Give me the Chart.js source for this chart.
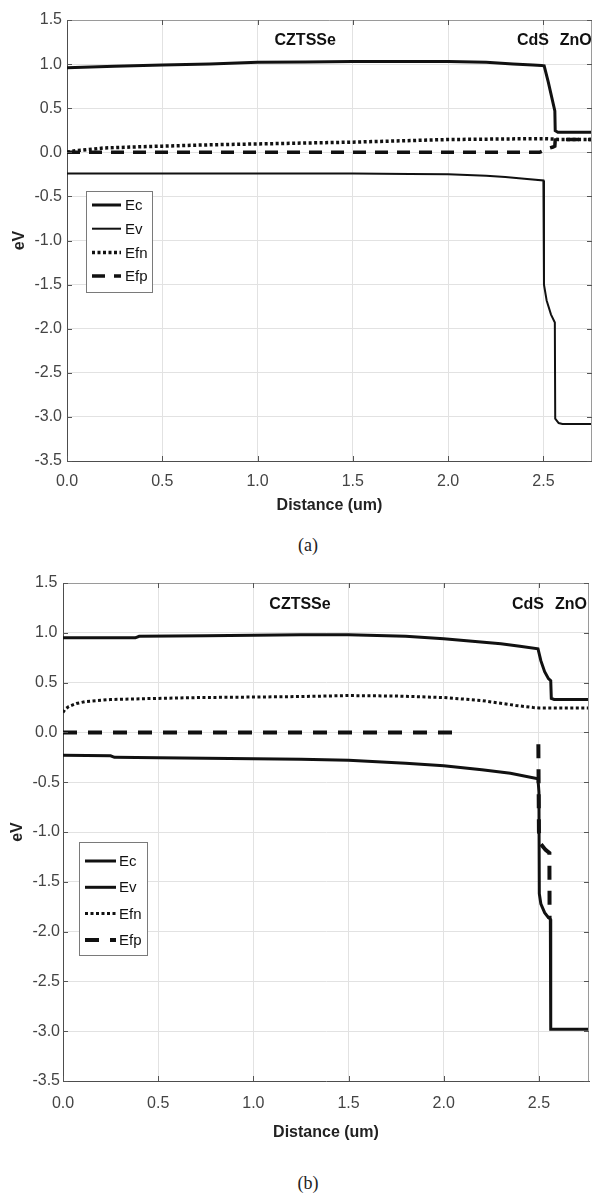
<!DOCTYPE html>
<html>
<head>
<meta charset="utf-8">
<script src="https://cdn.jsdelivr.net/npm/chart.js@4.4.1/dist/chart.umd.min.js"></script>
<style>
  body { margin: 0; background: #fff; width: 592px; height: 1195px; position: relative; overflow: hidden; }
  canvas { position: absolute; left: 0; }
  #chartA { top: 0; }
  #chartB { top: 565px; }
  .cap { position: absolute; left: 258px; width: 100px; text-align: center; line-height: 20px;
         font-family: "Liberation Serif", "Times New Roman", serif; font-size: 18px; color: #222; }
</style>
</head>
<body>
<canvas id="chartA" width="592" height="519"></canvas>
<div class="cap" style="top:535px">(a)</div>
<canvas id="chartB" width="592" height="581"></canvas>
<div class="cap" style="top:1173px">(b)</div>

<script>
const seriesNames = ["Ec", "Ev", "Efn", "Efp"];
const xTickValues = [0, 0.5, 1.0, 1.5, 2.0, 2.5];
const yTickValues = [-3.5, -3.0, -2.5, -2.0, -1.5, -1.0, -0.5, 0.0, 0.5, 1.0, 1.5];
const layerLabels = ["CZTSSe", "CdS", "ZnO"];

// ---- panel (a)
const ecAx = [0, 0.25, 0.5, 0.75, 1.0, 1.25, 1.5, 1.75, 2.0, 2.2, 2.34, 2.445, 2.49, 2.504, 2.525, 2.56, 2.562, 2.576, 2.76];
const ecAy = [0.96, 0.975, 0.99, 1.0, 1.02, 1.025, 1.03, 1.03, 1.03, 1.02, 1.0, 0.99, 0.985, 0.98, 0.80, 0.47, 0.245, 0.226, 0.226];
const evAx = [0, 0.5, 1.0, 1.5, 1.8, 2.0, 2.2, 2.3, 2.4, 2.5, 2.503, 2.517, 2.54, 2.56, 2.562, 2.58, 2.6, 2.76];
const evAy = [-0.24, -0.24, -0.24, -0.24, -0.245, -0.25, -0.265, -0.28, -0.3, -0.32, -1.5, -1.68, -1.84, -1.93, -3.02, -3.07, -3.08, -3.08];
const efnAx = [0, 0.05, 0.1, 0.2, 0.35, 0.5, 0.75, 1.0, 1.25, 1.5, 1.75, 2.0, 2.25, 2.45, 2.5, 2.56, 2.58, 2.76];
const efnAy = [0.0, 0.02, 0.03, 0.05, 0.06, 0.07, 0.085, 0.095, 0.105, 0.115, 0.13, 0.145, 0.15, 0.155, 0.155, 0.15, 0.145, 0.145];
const efpAx = [0, 2.48, 2.5, 2.52, 2.55, 2.56, 2.562, 2.58, 2.76];
const efpAy = [0, 0, 0.02, 0.04, 0.06, 0.07, 0.14, 0.145, 0.145];

// ---- panel (b)
const ecBx = [0, 0.38, 0.4, 0.75, 1.0, 1.25, 1.5, 1.8, 2.0, 2.15, 2.3, 2.4, 2.495, 2.51, 2.53, 2.55, 2.562, 2.565, 2.58, 2.76];
const ecBy = [0.95, 0.95, 0.965, 0.97, 0.975, 0.98, 0.98, 0.965, 0.94, 0.915, 0.89, 0.865, 0.84, 0.72, 0.61, 0.54, 0.52, 0.34, 0.33, 0.33];
const evBx = [0, 0.25, 0.27, 0.5, 0.75, 1.0, 1.25, 1.5, 1.8, 2.0, 2.2, 2.35, 2.495, 2.5, 2.502, 2.51, 2.53, 2.55, 2.56, 2.562, 2.6, 2.76];
const evBy = [-0.23, -0.235, -0.25, -0.255, -0.26, -0.265, -0.27, -0.28, -0.31, -0.335, -0.375, -0.41, -0.465, -0.6, -1.62, -1.72, -1.81, -1.86, -1.875, -2.98, -2.98, -2.98];
const efnBx = [0, 0.01, 0.03, 0.07, 0.12, 0.25, 0.46, 0.72, 1.0, 1.25, 1.5, 1.75, 2.0, 2.2, 2.38, 2.47, 2.5, 2.57, 2.76];
const efnBy = [0.2, 0.23, 0.26, 0.29, 0.31, 0.33, 0.34, 0.35, 0.355, 0.36, 0.37, 0.365, 0.35, 0.32, 0.27, 0.25, 0.245, 0.245, 0.245];
const efpBx = [0, 2.05, 2.3, 2.497, 2.5, 2.51, 2.535, 2.555, 2.556];
const efpBy = [0, 0, null, -0.12, -1.0, -1.12, -1.18, -1.21, -1.87];

const FONT = '"Liberation Sans", Arial, Helvetica, sans-serif';

function pts(xs, ys) {
    return xs.map((x, i) => ({ x: x, y: ys[i] }));
}

function line(label, xs, ys, width, dash) {
    return {
        label: label,
        data: pts(xs, ys),
        borderColor: "#111",
        borderWidth: width,
        borderDash: dash,
        borderCapStyle: "butt",
        pointRadius: 0,
        showLine: true,
        fill: false,
        tension: 0,
        spanGaps: false
    };
}

const frame = {
    id: "frame",
    afterDatasetsDraw(chart, args, opts) {
        const { ctx, chartArea: a, scales: { x, y } } = chart;
        ctx.save();
        ctx.setLineDash([]);

        // top and right border of the box
        ctx.strokeStyle = "#9a9a9a";
        ctx.lineWidth = 1;
        ctx.beginPath();
        ctx.moveTo(a.left, a.top + 0.5);
        ctx.lineTo(a.right, a.top + 0.5);
        ctx.moveTo(a.right - 0.5, a.top);
        ctx.lineTo(a.right - 0.5, a.bottom);
        ctx.stroke();

        // inward tick marks
        ctx.strokeStyle = "#555";
        ctx.beginPath();
        x.ticks.forEach(t => {
            const px = Math.round(x.getPixelForValue(t.value)) + 0.5;
            ctx.moveTo(px, a.bottom); ctx.lineTo(px, a.bottom - 5);
            ctx.moveTo(px, a.top); ctx.lineTo(px, a.top + 5);
        });
        y.ticks.forEach(t => {
            const py = Math.round(y.getPixelForValue(t.value)) + 0.5;
            ctx.moveTo(a.left, py); ctx.lineTo(a.left + 5, py);
            ctx.moveTo(a.right, py); ctx.lineTo(a.right - 5, py);
        });
        ctx.stroke();

        // layer names
        ctx.font = "bold 16px " + FONT;
        ctx.fillStyle = "#111";
        ctx.textAlign = "center";
        ctx.textBaseline = "middle";
        opts.notes.forEach(n => {
            ctx.fillText(n.text, x.getPixelForValue(n.x), y.getPixelForValue(n.y));
        });

        // legend box inside the plot
        const lg = opts.legend;
        const x0 = a.left + lg.dx, y0 = a.top + lg.dy;
        ctx.fillStyle = "#fff";
        ctx.fillRect(x0, y0, lg.w, lg.h);
        ctx.strokeStyle = "#7a7a7a";
        ctx.lineWidth = 1;
        ctx.strokeRect(x0 + 0.5, y0 + 0.5, lg.w, lg.h);
        ctx.font = "15px " + FONT;
        ctx.textAlign = "left";
        chart.data.datasets.forEach((ds, i) => {
            const yy = y0 + lg.row0 + i * lg.rowH;
            ctx.strokeStyle = ds.borderColor;
            ctx.lineWidth = ds.borderWidth;
            ctx.setLineDash(ds.borderDash || []);
            ctx.beginPath();
            ctx.moveTo(x0 + lg.sx, yy);
            ctx.lineTo(x0 + lg.sx + lg.sl, yy);
            ctx.stroke();
            ctx.fillStyle = "#111";
            ctx.fillText(ds.label, x0 + lg.tx, yy + 1);
        });
        ctx.restore();
    }
};

function makeChart(id, datasets, cfg) {
    const tickFont = { family: FONT, size: 16 };
    const titleFont = { family: FONT, size: 16, weight: "bold" };
    return new Chart(document.getElementById(id), {
        type: "scatter",
        data: { datasets: datasets },
        plugins: [frame],
        options: {
            responsive: false,
            animation: false,
            layout: { padding: { top: cfg.padTop, right: cfg.padRight, left: 0, bottom: 0 } },
            plugins: {
                legend: { display: false },
                tooltip: { enabled: false },
                frame: { notes: cfg.notes, legend: cfg.legend }
            },
            scales: {
                x: {
                    type: "linear",
                    min: 0,
                    max: cfg.xMax,
                    afterBuildTicks: s => { s.ticks = xTickValues.map(v => ({ value: v })); },
                    afterFit: s => { s.height = cfg.xHeight; },
                    ticks: { font: tickFont, color: "#444", padding: cfg.xTickPad, maxRotation: 0,
                             callback: v => v.toFixed(1) },
                    grid: { color: "#e2e2e2", drawTicks: false },
                    border: { color: "#4d4d4d" },
                    title: { display: true, text: "Distance (um)", font: titleFont, color: "#222",
                             padding: { top: 4, bottom: 4 } }
                },
                y: {
                    min: -3.5,
                    max: 1.5,
                    afterBuildTicks: s => { s.ticks = yTickValues.map(v => ({ value: v })); },
                    afterFit: s => { s.width = cfg.yWidth; },
                    ticks: { font: tickFont, color: "#444", padding: cfg.yTickPad, crossAlign: cfg.yAlign,
                             callback: v => v.toFixed(1) },
                    grid: { color: "#e2e2e2", drawTicks: false },
                    border: { color: "#4d4d4d" },
                    title: { display: true, text: "eV", font: titleFont, color: "#222",
                             padding: { top: cfg.yTitlePad, bottom: 0 } }
                }
            }
        }
    });
}

makeChart("chartA", [
    line(seriesNames[0], ecAx, ecAy, 3, []),
    line(seriesNames[1], evAx, evAy, 2, []),
    line(seriesNames[2], efnAx, efnAy, 3.5, [3, 2.5]),
    line(seriesNames[3], efpAx, efpAy, 3.5, [13, 9])
], {
    padTop: 20, padRight: 0, xMax: 2.755, xHeight: 58, yWidth: 67,
    xTickPad: 11, yTickPad: 5, yAlign: "near", yTitlePad: 10,
    notes: [
        { text: layerLabels[0], x: 1.25, y: 1.265 },
        { text: layerLabels[1], x: 2.445, y: 1.265 },
        { text: layerLabels[2], x: 2.67, y: 1.265 }
    ],
    legend: { dx: 19, dy: 171, w: 66, h: 101, row0: 14, rowH: 23.7, sx: 6, sl: 29, tx: 39 }
});

makeChart("chartB", [
    line(seriesNames[0], ecBx, ecBy, 3, []),
    line(seriesNames[1], evBx, evBy, 3, []),
    line(seriesNames[2], efnBx, efnBy, 3, [3, 2.5]),
    line(seriesNames[3], efpBx, efpBy, 4, [14, 11])
], {
    padTop: 18, padRight: 3, xMax: 2.763, xHeight: 65, yWidth: 63,
    xTickPad: 13, yTickPad: 3, yAlign: "center", yTitlePad: 8,
    notes: [
        { text: layerLabels[0], x: 1.245, y: 1.28 },
        { text: layerLabels[1], x: 2.442, y: 1.28 },
        { text: layerLabels[2], x: 2.668, y: 1.28 }
    ],
    legend: { dx: 16, dy: 259, w: 68, h: 113, row0: 19, rowH: 26.3, sx: 6, sl: 31, tx: 40 }
});
</script>
</body>
</html>
